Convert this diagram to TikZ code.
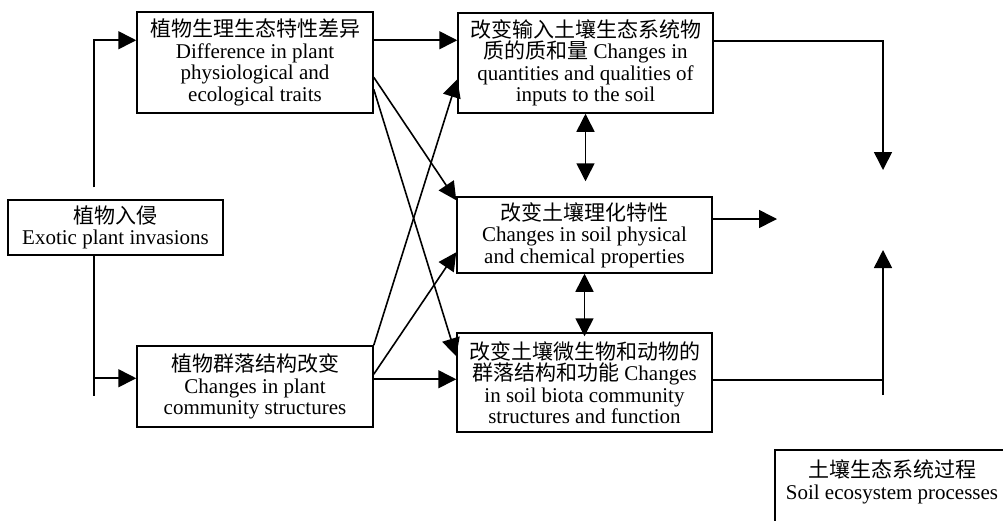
\documentclass[tikz,border=0pt]{standalone}
\usepackage{fontspec}
\setmainfont{Liberation Serif}
\newfontfamily\cjk{Noto Sans CJK SC}
\newcommand{\zh}[1]{{\cjk #1}}
\usetikzlibrary{arrows.meta,calc}
\begin{document}
\begin{tikzpicture}[x=1pt,y=-1pt,
  box/.style={draw, line width=1.5pt, inner sep=0pt, align=center, font=\fontsize{21}{21.5}\selectfont},
  txt/.style={inner sep=0pt, align=center, font=\fontsize{21}{21.5}\selectfont},
  conn/.style={line width=1.6pt, -{Triangle[length=18pt,width=18pt]}},
  dbl/.style={line width=1.6pt, {Triangle[length=18pt,width=18pt]}-{Triangle[length=18pt,width=18pt]}},
  plain/.style={line width=1.6pt}]
\useasboundingbox (0,0) rectangle (1003,520);
\clip (0,0) rectangle (1003,520);

\node[box, minimum width=215pt, minimum height=55pt] (A) at (115.5,227.5)
  {\zh{植物入侵}\\Exotic plant invasions};
\node[box, minimum width=236pt, minimum height=101pt] (B) at (255,62.5)
  {\zh{植物生理生态特性差异}\\Difference in plant\\physiological and\\ecological traits};
\node[box, minimum width=236pt, minimum height=81pt] (C) at (255,386.5)
  {\zh{植物群落结构改变}\\Changes in plant\\community structures};
\node[box, minimum width=255pt, minimum height=100pt] (D) at (585.5,63)
  {\zh{改变输入土壤生态系统物}\\\zh{质的质和量} Changes in\\quantities and qualities of\\inputs to the soil};
\node[box, minimum width=255pt, minimum height=76pt] (E) at (584.5,235)
  {\zh{改变土壤理化特性}\\Changes in soil physical\\and chemical properties};
\node[box, minimum width=255pt, minimum height=99pt] (F) at (584.5,382.5)
  {\zh{改变土壤微生物和动物的}\\\zh{群落结构和功能} Changes\\in soil biota community\\structures and function};

\draw[line width=1.5pt] (775,450) rectangle (1015,545);
\node[txt] (G) at (892,482) {\zh{土壤生态系统过程}\\Soil ecosystem processes};

% from invasions
\draw[conn] ($(A.north west)+(87,-12)$) |- ($(B.north west)+(0,29)$);
\draw[conn] ($(A.south west)+(87,0)$) |- ($(C.north west)+(0,33)$);
\draw[plain] ($(A.south west)+(87,0)$) -- ($(A.south west)+(87,140)$);

% from traits
\draw[conn] ($(B.north east)+(0,29)$) -- ($(D.north west)+(0,28)$);
\draw[conn] ($(B.north east)+(0,66)$) -- ($(E.north west)+(0,4)$);
\draw[conn] ($(B.north east)+(0,78)$) -- ($(F.north west)+(0,24)$);

% from community
\draw[conn] (C.north east) -- ($(D.north west)+(0,67)$);
\draw[conn] ($(C.north east)+(0,29)$) -- ($(E.north west)+(0,56)$);
\draw[conn] ($(C.north east)+(0,34)$) -- ($(F.north west)+(0,47)$);

% between soil boxes
\draw[dbl, shorten >=15pt] (D.south) -- (D.south |- E.north);
\draw[dbl] (E.south) -- ($(E.south |- F.north)+(0,4)$);

% to the right
\coordinate (P1) at (883,170);
\coordinate (P2) at (777,219);
\coordinate (P3) at (883,250);
\coordinate (P4) at (883,395);
\draw[conn] ($(D.north east)+(0,29)$) -| (P1);
\draw[conn] (E.east |- P2) -- (P2);
\draw[conn] ($(F.north east)+(0,48)$) -| (P3);
\draw[plain] (P4) -- ++(0,-20);
\end{tikzpicture}
\end{document}
